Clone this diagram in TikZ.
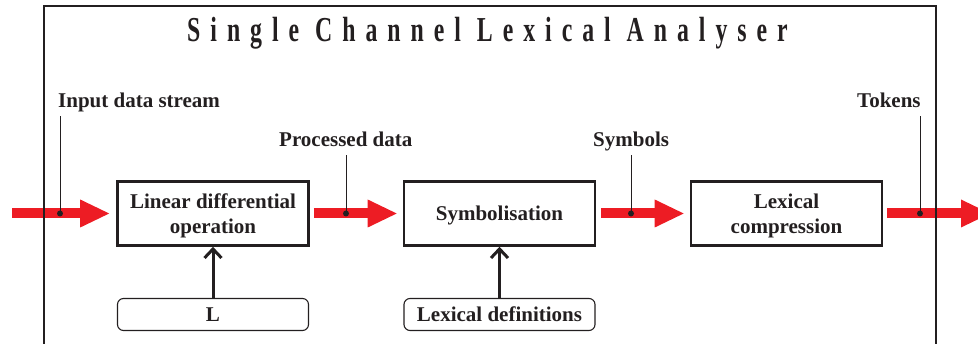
\documentclass[tikz,border=0pt]{standalone}
\usepackage{fontspec}
\setmainfont{Liberation Serif}
\newfontfamily\titlefont[FakeStretch=0.68,LetterSpace=28.5]{Liberation Serif}
\usetikzlibrary{arrows.meta}
\definecolor{ink}{HTML}{231F20}
\definecolor{flow}{HTML}{ED1C24}
\begin{document}
\begin{tikzpicture}[x=1pt,y=-1pt,
  txt/.style={font=\bfseries\fontsize{21}{25}\selectfont, text=ink},
  stage/.style={txt, draw=ink, line width=2.6pt, minimum width=191pt, minimum height=64pt,
    inner sep=0pt, align=center, text depth=0pt},
  source/.style={txt, draw=ink, line width=1.1pt, rounded corners=6pt,
    minimum width=191pt, minimum height=32pt, inner sep=0pt},
  tag/.style={txt, inner sep=0pt, anchor=base west},
  dot/.style={circle, fill=ink, minimum size=6pt, inner sep=0pt},
  flowarrow/.style={draw=flow, line width=10pt,
    -{Triangle[length=29pt,width=28pt,line width=0pt]}},
  feed/.style={draw=ink, line width=3pt, -{Straight Barb[length=9pt,width=17pt]}},
  leader/.style={draw=ink, line width=0.9pt, shorten >=8.5pt}]
\useasboundingbox (0,0) rectangle (978,344);
\clip (0,0) rectangle (978,344);

% processing stages
\node[stage] (lin) at (213,213.5) {Linear differential\\operation};
\node[stage] (sym) at (499.5,213.5) {Symbolisation};
\node[stage] (lex) at (786.5,213.5) {Lexical\\compression};

% auxiliary inputs
\node[source] (lsrc) at (213,314.5) {L};
\node[source] (ldef) at (499.5,314.5) {Lexical definitions};

% data flow
\coordinate (in) at (12,213.5);
\coordinate (out) at (990,213.5);
\draw[flowarrow, shorten >=7pt] (in) -- (lin.west);
\draw[flowarrow, shorten <=4pt, shorten >=6pt] (lin.east) -- (sym.west);
\draw[flowarrow, shorten <=5pt, shorten >=6pt] (sym.east) -- (lex.west);
\draw[flowarrow, shorten <=4pt] (lex.east) -- (out);

\draw[feed] (lsrc) -- (lin);
\draw[feed] (ldef) -- (sym);

% flow labels
\node[dot] (p1) at (60,213.5) {};
\node[dot] (p2) at (346,213.5) {};
\node[dot] (p3) at (631,213.5) {};
\node[dot] (p4) at (920,213.5) {};
\node[tag] (t1) at (58,108) {Input data stream};
\node[tag] (t2) at (279,147) {Processed data};
\node[tag] (t3) at (593,147) {Symbols};
\node[tag] (t4) at (857,108) {Tokens};
\draw[leader] (p1.center) -- (p1 |- t1.base);
\draw[leader] (p2.center) -- (p2 |- t2.base);
\draw[leader] (p3.center) -- (p3 |- t3.base);
\draw[leader] (p4.center) -- (p4 |- t4.base);

% enclosing frame and title
\draw[ink, line width=2.6pt] (44,360) -- (44,6) -- (936,6) -- (936,360);
\node[font=\titlefont\bfseries\fontsize{35}{40}\selectfont, text=ink, anchor=base, inner sep=0pt]
  (title) at (487.5,42) {Single Channel Lexical Analyser};
\end{tikzpicture}
\end{document}
